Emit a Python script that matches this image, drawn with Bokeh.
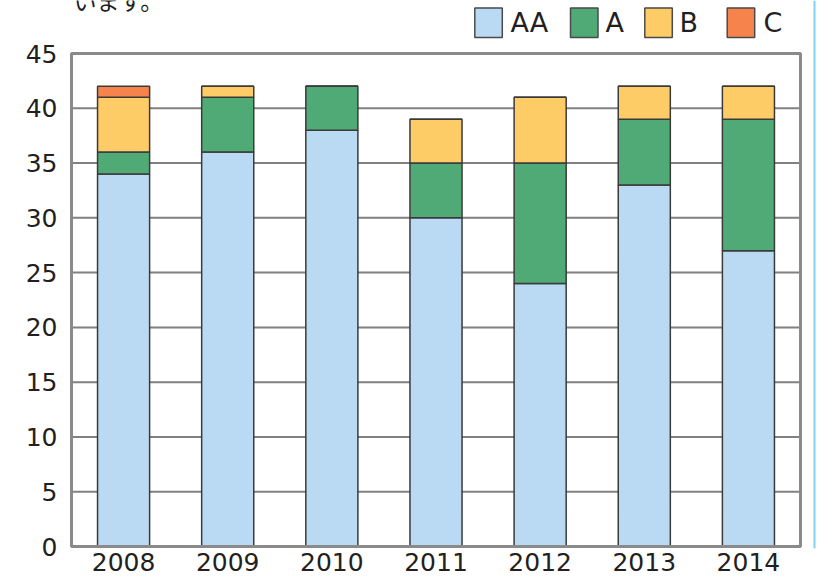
from bokeh.plotting import figure
from bokeh.models import Range1d, FixedTicker, Label, BoxAnnotation
from bokeh.embed import file_html
from bokeh.resources import INLINE

# ---- data ----
years = ["2008", "2009", "2010", "2011", "2012", "2013", "2014"]
aa = [34, 36, 38, 30, 24, 33, 27]
a = [2, 5, 4, 5, 11, 6, 12]
b = [5, 1, 0, 4, 6, 3, 3]
c = [1, 0, 0, 0, 0, 0, 0]
series = ["AA", "A", "B", "C"]
colors = ["#b9daf2", "#50aa75", "#fecc66", "#f5834b"]
y_ticks = [0, 5, 10, 15, 20, 25, 30, 35, 40, 45]
y_max = 45
caption = "います。"

TXT = "#231f20"
FONT = "DejaVu Sans"
W, H = 836, 581

# ---- layout geometry (pixels) ----
plot_left, plot_right = 71, 800      # plot-area box
plot_top, plot_bottom = 53, 546
frame_left, frame_bottom = 69, 548    # bokeh frame (extends to canvas top/right)
n = len(years)
px_x = (plot_right - plot_left) / n
px_y = (plot_bottom - plot_top) / y_max
x_range = Range1d(-(plot_left - frame_left) / px_x, (W - plot_left) / px_x)
y_range = Range1d(-(frame_bottom - plot_bottom) / px_y, plot_bottom / px_y)

p = figure(x_range=x_range, y_range=y_range, width=W, height=H,
           output_backend="svg", toolbar_location=None,
           min_border_left=frame_left, min_border_right=0, min_border_top=0,
           min_border_bottom=H - frame_bottom,
           background_fill_color="white", border_fill_color="white")
p.outline_line_color = None
p.grid.visible = False

xs = [i + 0.5 for i in range(n)]

# horizontal grid lines within the plot area
p.segment(x0=[0] * len(y_ticks), x1=[n] * len(y_ticks), y0=y_ticks, y1=y_ticks,
          line_color="#808080", line_width=2, level="underlay")

data = {"x": xs, "AA": aa, "A": a, "B": b, "C": c}
p.vbar_stack(series, x="x", width=0.5, source=data, fill_color=colors,
             line_color="#3a3a3a", line_width=1.5)

# plot-area frame
p.add_layout(BoxAnnotation(left=0, right=n, bottom=0, top=y_max,
                           fill_color=None, fill_alpha=0,
                           line_color="#8a8a8a", line_alpha=1.0, line_width=3))

# axes
p.yaxis.ticker = FixedTicker(ticks=y_ticks)
p.yaxis.axis_line_color = None
p.yaxis.major_tick_line_color = None
p.yaxis.minor_tick_line_color = None
p.yaxis.major_tick_out = 0
p.yaxis.major_tick_in = 0
p.yaxis.major_label_standoff = 12
p.yaxis.major_label_text_font = FONT
p.yaxis.major_label_text_font_size = "25px"
p.yaxis.major_label_text_color = TXT

p.xaxis.ticker = FixedTicker(ticks=xs)
p.xaxis.major_label_overrides = {x: yr for x, yr in zip(xs, years)}
p.xaxis.axis_line_color = None
p.xaxis.major_tick_line_color = None
p.xaxis.minor_tick_line_color = None
p.xaxis.major_tick_out = 0
p.xaxis.major_tick_in = 0
p.xaxis.major_label_standoff = 4
p.xaxis.major_label_text_font = FONT
p.xaxis.major_label_text_font_size = "25px"
p.xaxis.major_label_text_color = TXT

# legend (manual, horizontal above plot area); screen units relative to frame
sq_x = [474.3, 570.0, 644.3, 726.7]
txt_x = [510, 605, 679, 763]
for name, col, sx, tx in zip(series, colors, sq_x, txt_x):
    p.add_layout(BoxAnnotation(left=sx - frame_left, right=sx + 27.5 - frame_left,
                               top=frame_bottom - 7.5, bottom=frame_bottom - 37,
                               left_units="screen", right_units="screen",
                               top_units="screen", bottom_units="screen",
                               fill_color=col, fill_alpha=1.0,
                               line_color="#4a4a4a", line_alpha=1.0, line_width=1.5))
    p.add_layout(Label(x=tx - frame_left, y=frame_bottom - 22.3, x_units="screen",
                       y_units="screen", text=name, text_align="left",
                       text_baseline="alphabetic", text_font=FONT,
                       text_font_size="27px", text_color=TXT))

# cut-off caption text at top-left (only its lower part is visible, as in the source)
p.add_layout(Label(x=4, y=frame_bottom + 0.9, x_units="screen", y_units="screen",
                   text=caption, text_align="left", text_baseline="alphabetic",
                   text_font="Noto Sans CJK JP", text_font_size="23px", text_color=TXT))

# light blue vertical rule at the right edge
p.add_layout(BoxAnnotation(left=813 - frame_left, right=815 - frame_left,
                           left_units="screen", right_units="screen",
                           fill_color="#7fd3f2", fill_alpha=1.0, line_color=None))

open("out.html", "w").write(file_html(p, INLINE))
